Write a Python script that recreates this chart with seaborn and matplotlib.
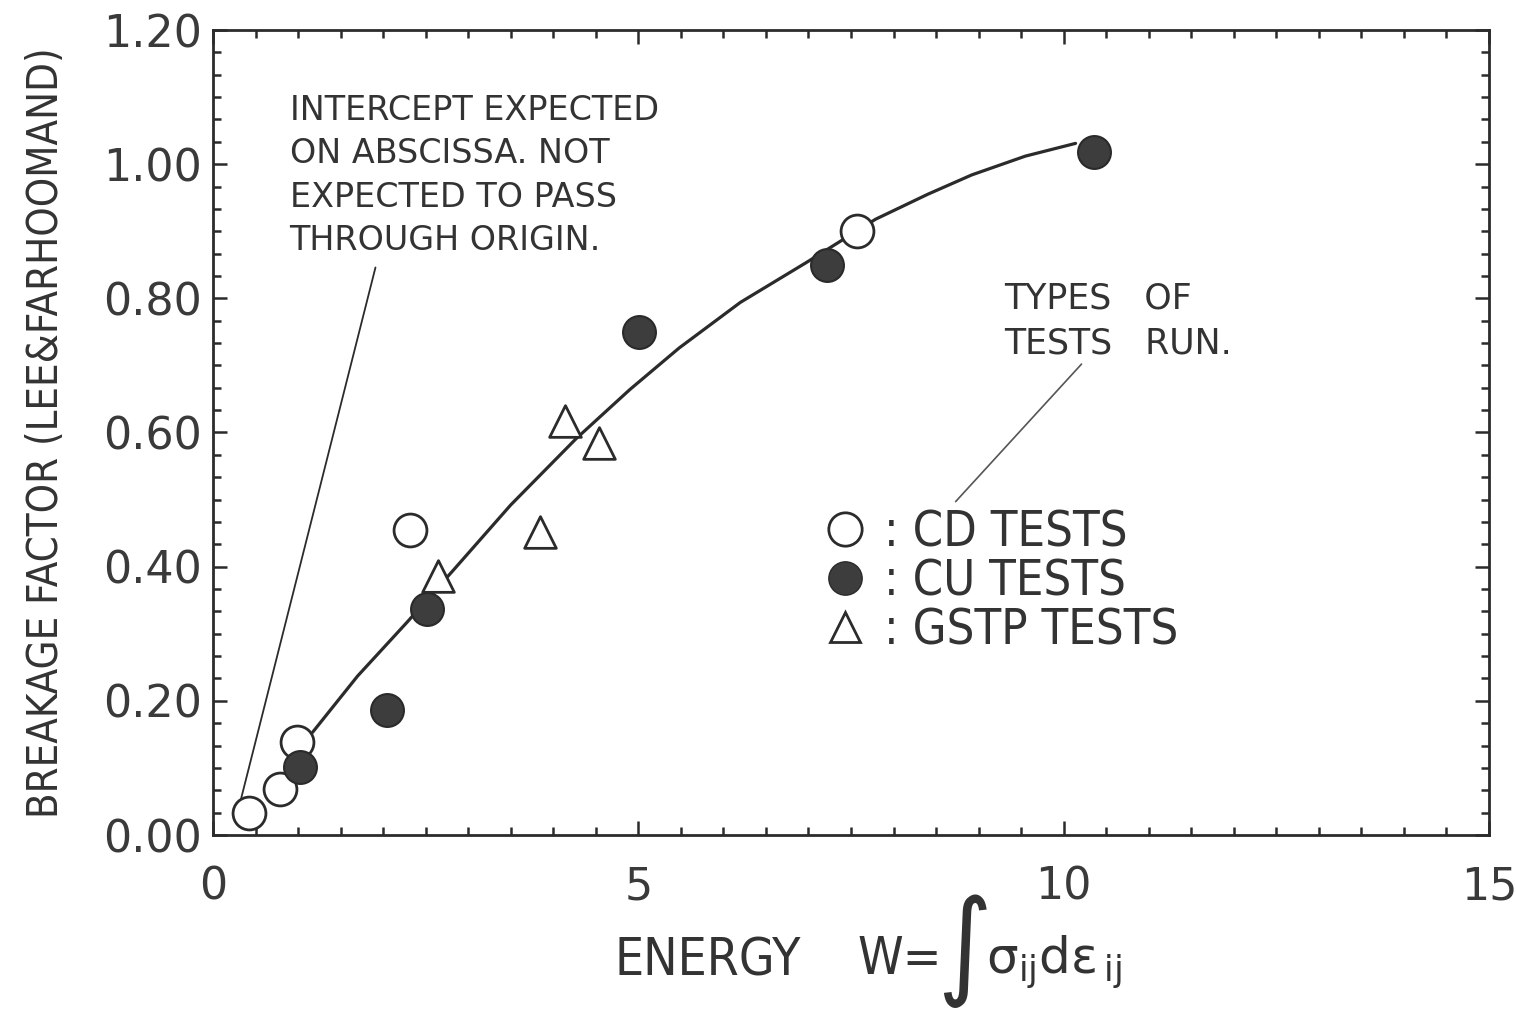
import matplotlib
matplotlib.use("Agg")
import matplotlib.pyplot as plt
from matplotlib.ticker import MultipleLocator, FixedLocator
from matplotlib.lines import Line2D
import seaborn as sns

# ---- data ----
cd_x = [0.42, 0.79, 0.99, 2.31, 7.57]
cd_y = [0.033, 0.069, 0.138, 0.454, 0.900]

cu_x = [1.02, 2.04, 2.52, 5.01, 7.22, 10.36]
cu_y = [0.102, 0.186, 0.337, 0.750, 0.849, 1.018]

gstp_x = [2.64, 3.84, 4.14, 4.54]
gstp_y = [0.386, 0.452, 0.617, 0.584]

curve_x = [1.17, 1.70, 2.28, 2.82, 3.50, 4.27, 4.90, 5.48, 6.20, 6.97, 7.79, 8.40, 8.92, 9.55, 10.14]
curve_y = [0.153, 0.237, 0.317, 0.394, 0.492, 0.591, 0.664, 0.726, 0.794, 0.853, 0.918, 0.955, 0.984, 1.012, 1.031]

x_ticks = [0, 5, 10, 15]
y_ticks = [0.00, 0.20, 0.40, 0.60, 0.80, 1.00, 1.20]

sns.set_theme(style="ticks")
plt.rcParams["font.family"] = ["DejaVu Sans"]
plt.rcParams["mathtext.fontset"] = "dejavusans"

fig = plt.figure(figsize=(15.16, 10.21), dpi=100)
ax = fig.add_axes([213 / 1516, 1 - 835 / 1021, (1489 - 213) / 1516, (835 - 30) / 1021])

ink = "#2b2b2b"
txt = "#333333"
sns.lineplot(x=curve_x, y=curve_y, ax=ax, color=ink, linewidth=2.3, sort=False, zorder=2)

ms = 560
sns.scatterplot(x=cd_x, y=cd_y, ax=ax, marker="o", s=ms, facecolor="white",
                edgecolor=ink, linewidth=2.0, zorder=4)
sns.scatterplot(x=cu_x, y=cu_y, ax=ax, marker="o", s=ms, color="#3d3d3d",
                edgecolor="#2a2a2a", linewidth=1.5, zorder=4)
sns.scatterplot(x=gstp_x, y=gstp_y, ax=ax, marker="^", s=520, facecolor="white",
                edgecolor=ink, linewidth=2.0, zorder=4)

ax.set_xlim(0, 15)
ax.set_ylim(0, 1.2)
ax.xaxis.set_major_locator(FixedLocator(x_ticks))
ax.yaxis.set_major_locator(FixedLocator(y_ticks))
ax.xaxis.set_minor_locator(MultipleLocator(0.5))
ax.yaxis.set_minor_locator(MultipleLocator(0.2 / 6))
ax.set_xticklabels([str(v) for v in x_ticks])
ax.set_yticklabels([f"{v:.2f}" for v in y_ticks])
ax.tick_params(which="both", direction="in", top=True, right=True, color=ink,
               labelcolor="#3a3a3a", labelsize=32, width=1.8)
ax.tick_params(which="major", length=10)
ax.tick_params(axis="x", which="major", pad=22)
ax.tick_params(axis="y", which="major", pad=8)
ax.tick_params(which="minor", length=5.5)
for s in ax.spines.values():
    s.set_linewidth(2.0)
    s.set_color(ink)

# x label in pieces (tall integral sign)
fig.text(708 / 1516, 1 - 961 / 1021, "ENERGY", fontsize=37, color=txt,
         ha="center", va="center", fontstretch="condensed")
fig.text(900 / 1516, 1 - 960 / 1021, "W=", fontsize=37, color=txt,
         ha="center", va="center", fontstretch="condensed")
fig.text(964 / 1516, 1 - 950 / 1021, "\u222b", fontsize=84, color=txt,
         ha="center", va="center", family=["DejaVu Sans"], fontstretch="condensed")
fig.text(986 / 1516, 1 - 962 / 1021, r"$\mathregular{\sigma_{ij}d\epsilon_{\,ij}}$",
         fontsize=36, color=txt, ha="left", va="center")

ax.set_ylabel("BREAKAGE FACTOR (LEE&FARHOOMAND)", fontsize=30, color=txt,
              labelpad=26, fontstretch="condensed")

# annotations
ax.text(0.90, 1.105,
        "INTERCEPT EXPECTED\nON ABSCISSA. NOT\nEXPECTED TO PASS\nTHROUGH ORIGIN.",
        fontsize=24, color=txt, va="top", ha="left", linespacing=1.4)
ax.annotate("", xy=(0.29, 0.034), xytext=(1.91, 0.846),
            arrowprops=dict(arrowstyle="-", color=ink, lw=1.3, shrinkA=0, shrinkB=0))

ax.text(9.30, 0.825, "TYPES   OF\nTESTS   RUN.", fontsize=25, color=txt,
        va="top", ha="left", linespacing=1.4)
ax.annotate("", xy=(8.73, 0.497), xytext=(10.21, 0.702),
            arrowprops=dict(arrowstyle="-", color="#555555", lw=1.2, shrinkA=0, shrinkB=0))

handles = [
    Line2D([], [], marker="o", linestyle="none", markersize=24, markerfacecolor="white",
           markeredgecolor=ink, markeredgewidth=2.0),
    Line2D([], [], marker="o", linestyle="none", markersize=24, markerfacecolor="#3d3d3d",
           markeredgecolor="#2a2a2a"),
    Line2D([], [], marker="^", linestyle="none", markersize=22, markerfacecolor="white",
           markeredgecolor=ink, markeredgewidth=2.0),
]
labels = [": CD TESTS", ": CU TESTS", ": GSTP TESTS"]
leg = ax.legend(handles, labels, loc="upper left", bbox_to_anchor=(0.461, 0.43),
                frameon=False, handlelength=1.0, handletextpad=0.3, labelspacing=0.02,
                prop={"size": 35, "stretch": "condensed"}, borderaxespad=0)
for t in leg.get_texts():
    t.set_color(txt)

fig.savefig("out.png", dpi=100)
